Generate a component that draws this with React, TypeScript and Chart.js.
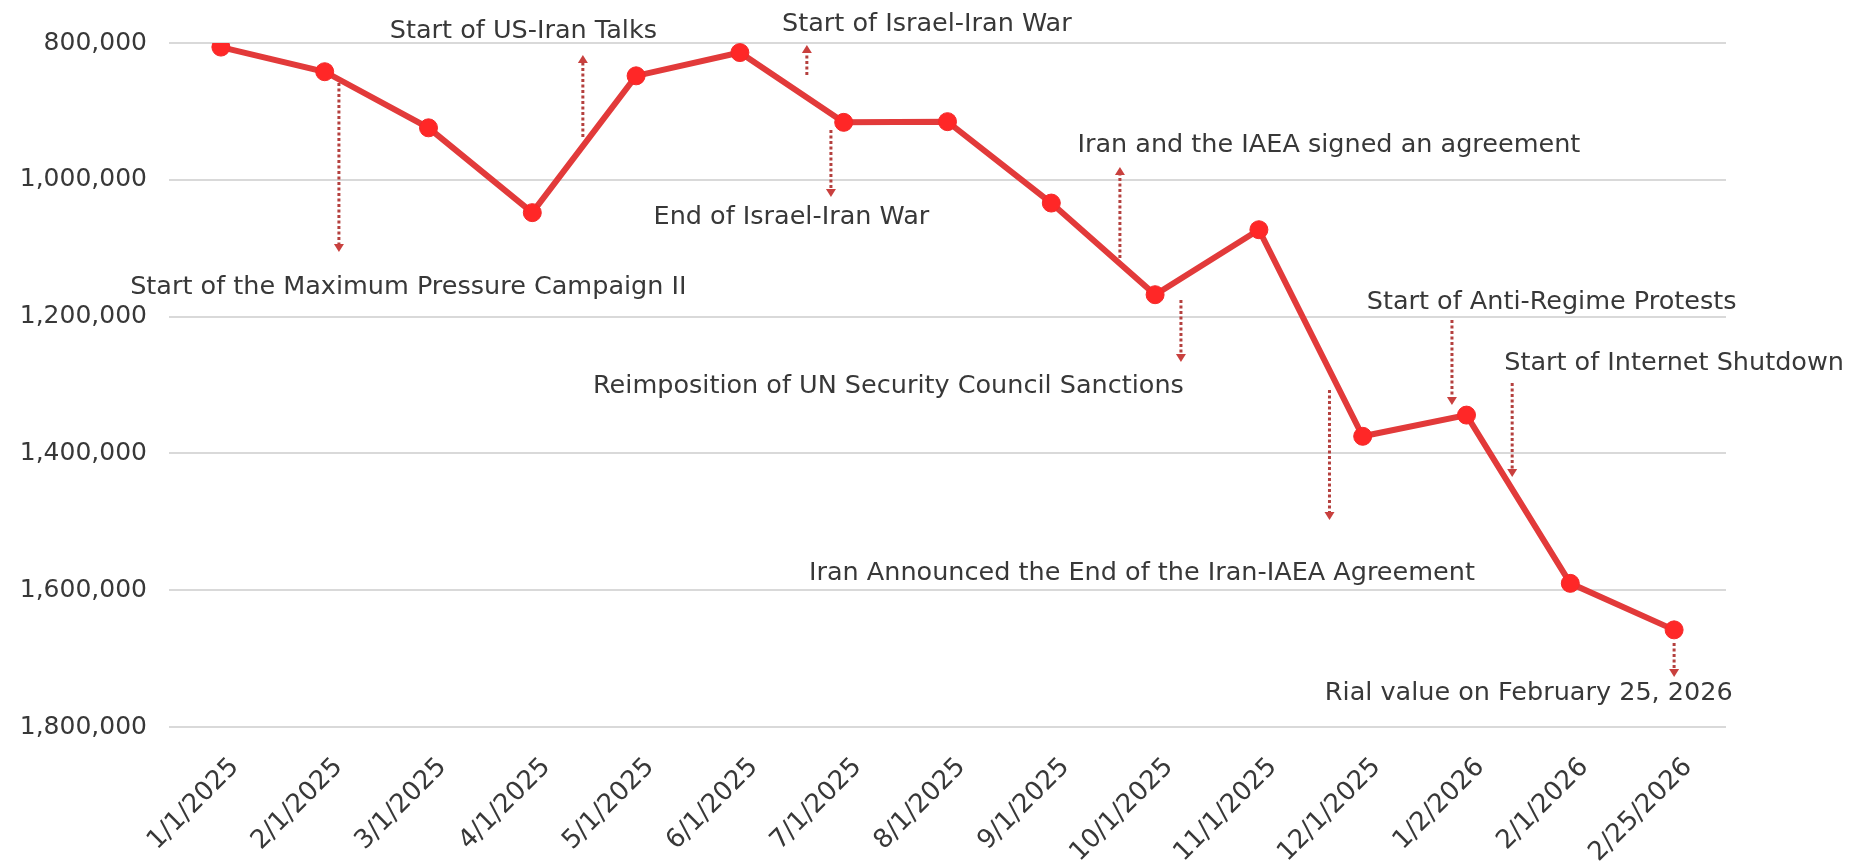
import React, { useEffect, useRef } from 'react';
import { Chart, registerables } from 'chart.js';

Chart.register(...registerables);

// ---- Data ----
const categories = [
  '1/1/2025', '2/1/2025', '3/1/2025', '4/1/2025', '5/1/2025', '6/1/2025', '7/1/2025',
  '8/1/2025', '9/1/2025', '10/1/2025', '11/1/2025', '12/1/2025', '1/2/2026', '2/1/2026', '2/25/2026',
];
const rialValues = [
  806000, 842000, 924000, 1048000, 848000, 814000, 916000,
  915000, 1034000, 1168000, 1073000, 1375000, 1344000, 1590000, 1658000,
];
const yTickValues = [800000, 1000000, 1200000, 1400000, 1600000, 1800000];

// ---- Event annotations (in data space: category index, rial value) ----
const eventLabels = [
  'Start of the Maximum Pressure Campaign II',
  'Start of US-Iran Talks',
  'Start of Israel-Iran War',
  'End of Israel-Iran War',
  'Iran and the IAEA signed an agreement',
  'Reimposition of UN Security Council Sanctions',
  'Start of Anti-Regime Protests',
  'Start of Internet Shutdown',
  'Iran Announced the End of the Iran-IAEA Agreement',
  'Rial value on February 25, 2026',
];
const eventLabelIndex = [1.806, 2.914, 6.801, 5.496, 10.674, 6.431, 12.82, 14.0, 8.873, 12.6];
const eventLabelValue = [1158000, 782500, 772200, 1054400, 949100, 1301500, 1178700, 1267800, 1574900, 1750300];
const eventArrowIndex = [1.137, 3.487, 5.645, 5.877, 8.661, 9.249, 11.86, 12.44, 10.68, 14.0];
const eventArrowFrom = [858500, 937400, 846800, 927200, 1114300, 1175700, 1205000, 1297100, 1307300, 1677200];
const eventArrowTo = [1105500, 817500, 803000, 1025100, 981300, 1266400, 1329200, 1434500, 1497400, 1726900];

const FONT = '"DejaVu Sans", Verdana, sans-serif';
const TEXT_COLOR = '#383838';

const eventPlugin = {
  id: 'eventAnnotations',
  afterDatasetsDraw(chart: any) {
    const { ctx } = chart;
    const xs = chart.scales.x;
    const ys = chart.scales.y;
    ctx.save();
    // arrows
    for (let i = 0; i < eventArrowIndex.length; i++) {
      const px = xs.getPixelForValue(eventArrowIndex[i]);
      const y0 = ys.getPixelForValue(eventArrowFrom[i]);
      const y1 = ys.getPixelForValue(eventArrowTo[i]);
      const dir = y1 > y0 ? 1 : -1;
      const head = 8;
      ctx.strokeStyle = '#B4403E';
      ctx.lineWidth = 3;
      ctx.setLineDash([3, 2.5]);
      ctx.beginPath();
      ctx.moveTo(px, y0);
      ctx.lineTo(px, y1 - dir * head);
      ctx.stroke();
      ctx.setLineDash([]);
      ctx.fillStyle = '#C9403E';
      ctx.beginPath();
      ctx.moveTo(px - 5, y1 - dir * head);
      ctx.lineTo(px + 5, y1 - dir * head);
      ctx.lineTo(px, y1);
      ctx.closePath();
      ctx.fill();
    }
    // labels
    ctx.font = `25.5px ${FONT}`;
    ctx.fillStyle = TEXT_COLOR;
    ctx.textAlign = 'center';
    ctx.textBaseline = 'middle';
    for (let i = 0; i < eventLabels.length; i++) {
      const px = xs.getPixelForValue(eventLabelIndex[i]);
      const py = ys.getPixelForValue(eventLabelValue[i]);
      ctx.fillText(eventLabels[i], px, py);
    }
    ctx.restore();
  },
};

export default function App() {
  const canvasRef = useRef<HTMLCanvasElement | null>(null);

  useEffect(() => {
    document.body.style.margin = '0';
    document.body.style.overflow = 'hidden';
    const canvas = canvasRef.current;
    if (!canvas) return;
    const chart = new Chart(canvas, {
      type: 'line',
      data: {
        labels: categories,
        datasets: [
          {
            label: 'Rial',
            data: rialValues,
            borderColor: '#E23A3A',
            borderWidth: 6,
            pointRadius: 9,
            pointHoverRadius: 9,
            pointBackgroundColor: '#FF2727',
            pointBorderColor: '#F22A2A',
            pointBorderWidth: 1,
            tension: 0,
          },
        ],
      },
      options: {
        animation: false,
        responsive: false,
        maintainAspectRatio: false,
        layout: { padding: { top: 43, right: 136, left: 0, bottom: 0 } },
        plugins: {
          legend: { display: false },
          tooltip: { enabled: false },
        },
        scales: {
          x: {
            type: 'category',
            offset: true,
            grid: { display: false },
            border: { display: false },
            ticks: {
              autoSkip: false,
              maxRotation: 45,
              minRotation: 45,
              labelOffset: 14,
              padding: 17,
              color: TEXT_COLOR,
              font: { family: FONT, size: 26 },
            },
            afterFit: (scale: any) => {
              scale.height = 135;
            },
          },
          y: {
            type: 'linear',
            reverse: true,
            min: 800000,
            max: 1800000,
            afterBuildTicks: (scale: any) => {
              scale.ticks = yTickValues.map((v) => ({ value: v }));
            },
            grid: { color: '#D9D9D9', lineWidth: 2, drawTicks: false },
            border: { display: false },
            ticks: {
              padding: 22,
              color: TEXT_COLOR,
              font: { family: FONT, size: 25 },
              callback: (v: any) => Number(v).toLocaleString('en-US'),
            },
            afterFit: (scale: any) => {
              scale.width = 169;
            },
          },
        },
      },
      plugins: [eventPlugin],
    });
    return () => chart.destroy();
  }, []);

  return (
    <div style={{ width: 1862, height: 862, background: '#fff' }}>
      <canvas ref={canvasRef} width={1862} height={862} style={{ display: 'block' }} />
    </div>
  );
}
